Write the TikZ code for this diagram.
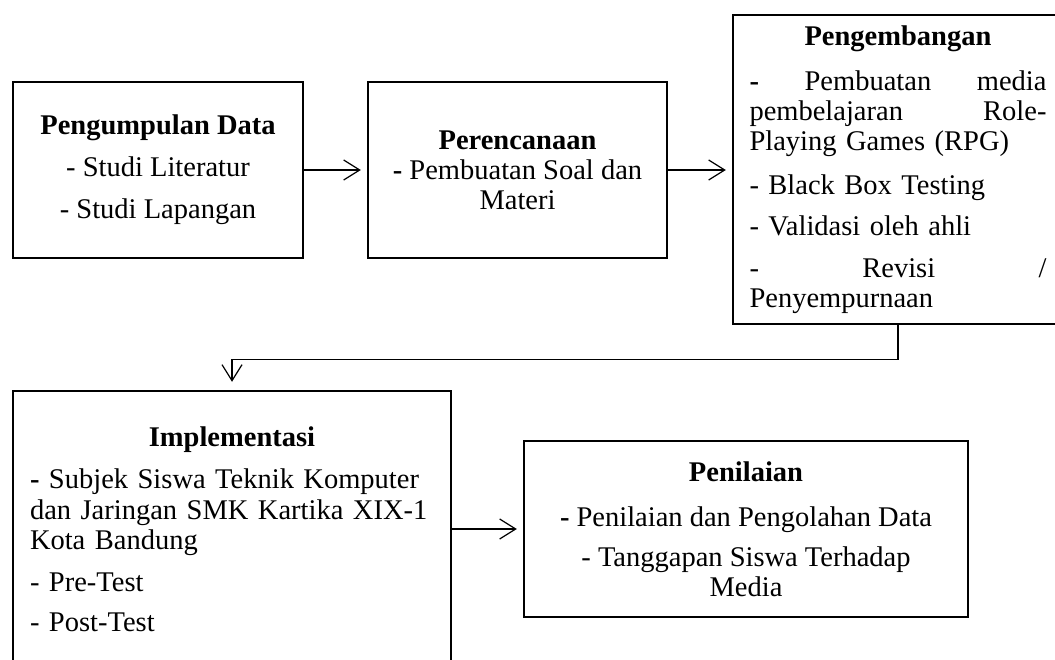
\documentclass[tikz,border=0pt]{standalone}
\usepackage{fontspec}
\setmainfont{Liberation Serif}
\usetikzlibrary{arrows.meta}
\newcommand{\fillline}[1]{\leavevmode\hbox to \linewidth{#1}}
\newcommand{\midline}[1]{\makebox[\linewidth]{#1}}

\begin{document}
\begin{tikzpicture}[x=1pt, y=-1pt,
  box/.style={draw, line width=2.4pt, inner sep=0pt, font=\fontsize{28.5}{30}\selectfont},
  conn/.style={line width=1.2pt, -{Straight Barb[length=16pt, width=20pt]}, shorten >=6pt}]
\useasboundingbox (0,0) rectangle (1055,660);
\node[box, align=center, minimum width=290pt, minimum height=176pt] (gather) at (158,170)
  {\textbf{Pengumpulan Data}\\[12pt] - Studi Literatur\\[12pt] - Studi Lapangan};
\node[box, align=center, minimum width=299pt, minimum height=176pt] (plan) at (517.5,170)
  {\textbf{Perencanaan}\\ \textbf{-} Pembuatan Soal dan\\ Materi};
\node[box, align=left, text width=297pt, minimum width=330pt, minimum height=309pt] (dev) at (898,169.5)
  {\midline{\textbf{Pengembangan}}\\[15pt]
   \fillline{\textbf{-}\hfill Pembuatan\hfill media}\\
   \fillline{pembelajaran\hfill Role-}\\
   Playing Games (RPG)\\[14pt]
   - Black Box Testing\\[11pt]
   - Validasi oleh ahli\\[12pt]
   \fillline{-\hfill Revisi\hfill /}\\
   Penyempurnaan};
\node[box, align=left, text width=404pt, minimum width=438pt, minimum height=276pt] (impl) at (232,529)
  {\midline{\textbf{Implementasi}}\\[12pt]
   \textbf{-} Subjek Siswa Teknik Komputer\\[1pt]
   dan Jaringan SMK Kartika XIX-1\\
   Kota Bandung\\[12pt]
   - Pre-Test\\[10pt]
   - Post-Test};
\node[box, align=center, minimum width=444pt, minimum height=176pt] (eval) at (746,529)
  {\textbf{Penilaian}\\[15pt] \textbf{-} Penilaian dan Pengolahan Data\\[10pt] - Tanggapan Siswa Terhadap\\ Media};
\draw[conn] (gather) -- (plan);
\draw[conn] (plan) -- (plan -| dev.west);
\draw[conn, shorten >=8pt] (dev.south) -- ++(0,34) -| (impl.north);
\draw[conn] (impl) -- (eval);
\end{tikzpicture}
\end{document}
